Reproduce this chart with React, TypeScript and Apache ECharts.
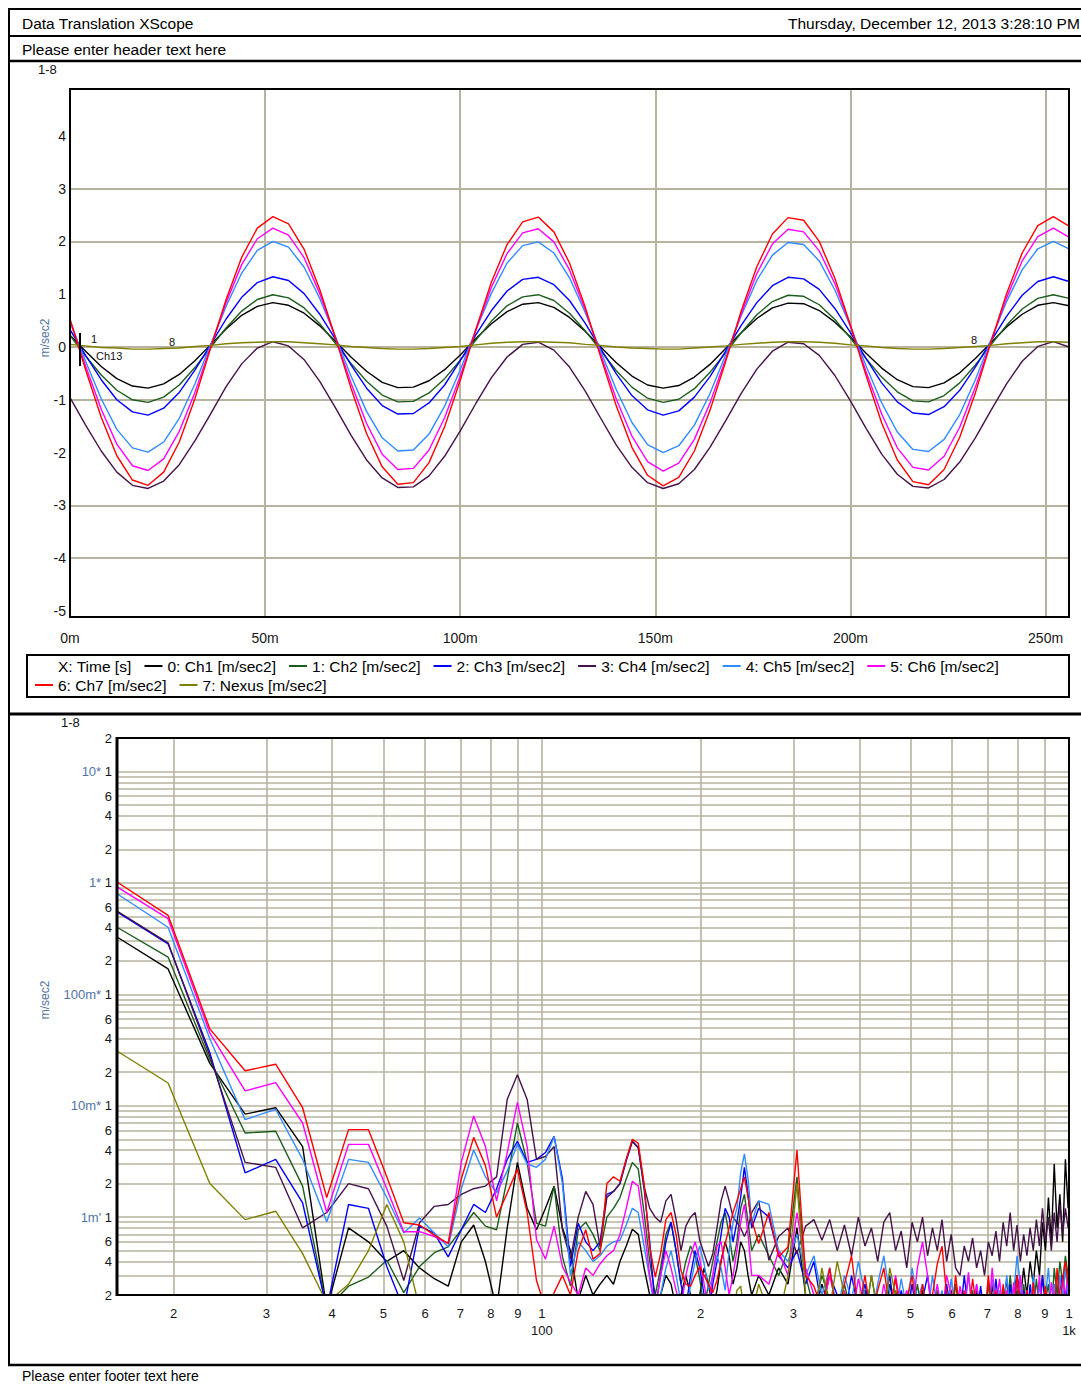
import React, { useEffect, useRef } from 'react';
import * as echarts from 'echarts';

const FONT = '"Liberation Sans", Arial, Helvetica, sans-serif';
const GRID_COLOR = '#b8b39f';
const LABEL_COLOR = '#161616';
const UNIT_COLOR = '#4f74a8';

// ---------- series identity ----------
const SERIES_NAMES = [
  '0: Ch1 [m/sec2]',
  '1: Ch2 [m/sec2]',
  '2: Ch3 [m/sec2]',
  '3: Ch4 [m/sec2]',
  '4: Ch5 [m/sec2]',
  '5: Ch6 [m/sec2]',
  '6: Ch7 [m/sec2]',
  '7: Nexus [m/sec2]',
];
const SERIES_COLORS = ['#000000', '#1b5e1b', '#0000ff', '#45124a', '#2f8cff', '#ff00ff', '#ff0000', '#808000'];
const X_LEGEND_TEXT = 'X: Time [s]';
const LEGEND_ROW1 = [0, 1, 2, 3, 4, 5];
const LEGEND_ROW2 = [6, 7];

// ---------- top chart: time signal (one sample every 4 ms) ----------
const SAMPLE_STEP_S = 0.004;
const TIME_CH1 = [
  0.22, -0.08, -0.37, -0.6, -0.74, -0.78, -0.7, -0.52, -0.26, 0.04, 0.34, 0.6, 0.77,
  0.84, 0.79, 0.64, 0.4, 0.11, -0.19, -0.46, -0.67, -0.77, -0.76, -0.64, -0.43, -0.15,
  0.16, 0.44, 0.67, 0.81, 0.84, 0.75, 0.56, 0.3, 0.0, -0.3, -0.55, -0.72, -0.78,
  -0.73, -0.57, -0.33, -0.03, 0.27, 0.54, 0.74, 0.83, 0.82, 0.69, 0.47, 0.19, -0.12,
  -0.4, -0.62, -0.75, -0.77, -0.68, -0.49, -0.22, 0.08, 0.38, 0.62, 0.79, 0.84, 0.78,
];
const TIME_CH2 = [
  0.22, -0.17, -0.53, -0.82, -1.0, -1.05, -0.95, -0.72, -0.39, -0.01, 0.36, 0.68, 0.9,
  0.99, 0.93, 0.74, 0.44, 0.07, -0.31, -0.65, -0.91, -1.04, -1.03, -0.87, -0.6, -0.25,
  0.13, 0.49, 0.78, 0.95, 0.99, 0.88, 0.64, 0.31, -0.07, -0.45, -0.76, -0.97, -1.05,
  -0.99, -0.79, -0.48, -0.11, 0.27, 0.61, 0.86, 0.98, 0.96, 0.8, 0.52, 0.17, -0.22,
  -0.57, -0.85, -1.02, -1.04, -0.92, -0.68, -0.34, 0.04, 0.41, 0.72, 0.92, 0.99, 0.92,
];
const TIME_CH3 = [
  0.33, -0.16, -0.62, -1.0, -1.23, -1.29, -1.16, -0.86, -0.44, 0.04, 0.53, 0.94, 1.22,
  1.33, 1.26, 1.01, 0.62, 0.15, -0.34, -0.78, -1.11, -1.27, -1.26, -1.06, -0.72, -0.26,
  0.23, 0.69, 1.06, 1.28, 1.32, 1.18, 0.88, 0.45, -0.03, -0.51, -0.92, -1.19, -1.29,
  -1.21, -0.95, -0.56, -0.08, 0.41, 0.84, 1.16, 1.32, 1.29, 1.09, 0.73, 0.27, -0.22,
  -0.68, -1.04, -1.25, -1.28, -1.13, -0.82, -0.38, 0.11, 0.58, 0.98, 1.24, 1.33, 1.24,
];
const TIME_CH4 = [
  -0.96, -1.48, -1.97, -2.37, -2.62, -2.68, -2.54, -2.23, -1.78, -1.27, -0.75, -0.32, -0.02,
  0.1, 0.02, -0.24, -0.65, -1.15, -1.67, -2.14, -2.48, -2.66, -2.65, -2.44, -2.07, -1.59,
  -1.07, -0.58, -0.19, 0.05, 0.09, -0.06, -0.38, -0.83, -1.35, -1.86, -2.28, -2.57, -2.68,
  -2.59, -2.32, -1.9, -1.4, -0.88, -0.42, -0.08, 0.09, 0.06, -0.16, -0.54, -1.02, -1.54,
  -2.03, -2.41, -2.64, -2.67, -2.51, -2.18, -1.72, -1.2, -0.7, -0.27, 0.01, 0.1, 0.0,
];
const TIME_CH5 = [
  0.48, -0.27, -0.98, -1.56, -1.91, -1.99, -1.8, -1.35, -0.7, 0.04, 0.77, 1.4, 1.83,
  2.0, 1.89, 1.51, 0.92, 0.2, -0.55, -1.22, -1.72, -1.97, -1.95, -1.65, -1.12, -0.43,
  0.32, 1.02, 1.59, 1.92, 1.99, 1.78, 1.31, 0.66, -0.08, -0.81, -1.43, -1.85, -2.0,
  -1.87, -1.48, -0.88, -0.15, 0.59, 1.26, 1.74, 1.98, 1.94, 1.63, 1.08, 0.39, -0.36,
  -1.06, -1.61, -1.94, -1.98, -1.75, -1.28, -0.62, 0.13, 0.86, 1.46, 1.86, 2.0, 1.86,
];
const TIME_CH6 = [
  0.5, -0.36, -1.18, -1.84, -2.25, -2.34, -2.12, -1.6, -0.86, -0.01, 0.84, 1.56, 2.05,
  2.25, 2.12, 1.69, 1.01, 0.18, -0.68, -1.45, -2.03, -2.32, -2.3, -1.95, -1.34, -0.55,
  0.32, 1.13, 1.77, 2.16, 2.24, 1.99, 1.46, 0.71, -0.14, -0.99, -1.69, -2.17, -2.35,
  -2.2, -1.75, -1.06, -0.23, 0.63, 1.39, 1.95, 2.23, 2.18, 1.82, 1.2, 0.4, -0.47,
  -1.27, -1.91, -2.28, -2.33, -2.07, -1.52, -0.76, 0.1, 0.93, 1.63, 2.09, 2.25, 2.08,
];
const TIME_CH7 = [
  0.53, -0.43, -1.33, -2.06, -2.52, -2.62, -2.37, -1.8, -0.98, -0.03, 0.9, 1.7, 2.25,
  2.47, 2.33, 1.85, 1.09, 0.18, -0.78, -1.64, -2.27, -2.6, -2.57, -2.19, -1.51, -0.63,
  0.33, 1.23, 1.94, 2.37, 2.46, 2.18, 1.59, 0.76, -0.19, -1.12, -1.9, -2.43, -2.63,
  -2.47, -1.97, -1.2, -0.28, 0.68, 1.52, 2.14, 2.45, 2.4, 2.0, 1.3, 0.41, -0.54,
  -1.44, -2.14, -2.55, -2.61, -2.32, -1.71, -0.87, 0.09, 1.01, 1.78, 2.3, 2.47, 2.29,
];
const TIME_NEXUS = [
  0.05, 0.02, -0.01, -0.02, -0.04, -0.04, -0.03, -0.02, 0.01, 0.03, 0.06, 0.08, 0.09,
  0.1, 0.1, 0.08, 0.06, 0.04, 0.01, -0.01, -0.03, -0.04, -0.04, -0.03, -0.01, 0.01,
  0.04, 0.07, 0.09, 0.1, 0.1, 0.09, 0.08, 0.05, 0.03, 0.0, -0.02, -0.03, -0.04,
  -0.04, -0.02, 0.0, 0.02, 0.05, 0.07, 0.09, 0.1, 0.1, 0.09, 0.07, 0.04, 0.02,
  -0.01, -0.03, -0.04, -0.04, -0.03, -0.01, 0.01, 0.03, 0.06, 0.08, 0.1, 0.1, 0.09,
];
const TIME_SERIES = [TIME_CH1, TIME_CH2, TIME_CH3, TIME_CH4, TIME_CH5, TIME_CH6, TIME_CH7, TIME_NEXUS];

const TOP_X_MAX_S = 0.256;
const TOP_X_STEP_S = 0.05;
const TOP_Y_MIN = -5.114;
const TOP_Y_MAX = 4.886;
const TOP_Y_LABELS = [-5, -4, -3, -2, -1, 0, 1, 2, 3, 4];
const TOP_Y_GRID = [-4, -3, -1, 0, 2, 3];

// ---------- bottom chart: spectrum (values in milli m/sec2) ----------
const BIN_WIDTH_HZ = 3.90625;
function binRange(from: number, to: number, step: number) {
  const out: number[] = [];
  for (let k = from; k <= to; k += step) out.push(k);
  return out;
}
const SPEC_BINS = [...binRange(4, 64, 1), ...binRange(66, 255, 3)];

const SPEC_CH1 = [
  // bins 4..64
  327, 169, 24, 8.4, 9.6, 4.3, 0.15, 0.8, 0.6, 0.4,
  0.5, 0.35, 0.28, 0.24, 0.6, 0.85, 0.4, 0.15, 0.8, 3.1,
  1.2, 0.77, 1.2, 1.9, 0.8, 0.5, 0.18, 0.3, 0.2, 0.25,
  0.3, 0.25, 0.4, 0.55, 0.78, 0.7, 0.35, 0.2, 0.13, 0.2,
  0.3, 0.25, 0.15, 0.2, 0.3, 0.2, 0.13, 0.2, 0.35, 0.25,
  0.15, 0.22, 0.4, 0.6, 0.45, 0.25, 0.35, 0.6, 0.5, 0.3,
  0.2,
  // bins 66..255 (every 3rd)
  0.3, 0.2, 0.35, 0.25, 0.8, 0.2, 0.13, 0.25,
  0.15, 0.2, 0.12, 0.18, 0.12, 0.22, 0.13, 0.2,
  0.12, 0.25, 0.14, 0.2, 0.12, 0.18, 0.12, 0.22,
  0.13, 0.2, 0.12, 0.18, 0.13, 0.22, 0.12, 0.2,
  0.13, 0.18, 0.12, 0.22, 0.14, 0.2, 0.12, 0.25,
  0.13, 0.2, 0.15, 0.28, 0.14, 0.22, 0.3, 0.18,
  0.35, 0.2, 0.4, 0.25, 0.5, 0.3, 0.9, 0.5,
  1.5, 0.6, 3.0, 0.8, 1.6, 0.6, 3.3, 1.2,
];
const SPEC_CH2 = [
  400, 216, 26, 5.7, 5.9, 1.9, 0.15, 0.24, 0.29, 0.41,
  0.21, 0.36, 0.48, 0.54, 0.77, 1.1, 0.83, 0.77, 2.2, 7.0,
  3.1, 0.88, 0.83, 1.9, 0.44, 0.24, 0.77, 0.9, 0.7, 0.5,
  1.0, 1.2, 1.5, 2.2, 3.1, 2.7, 1.1, 0.4, 0.2, 0.35,
  0.7, 0.9, 0.5, 0.25, 0.4, 0.55, 0.45, 0.28, 0.15, 0.25,
  0.4, 0.6, 0.9, 1.1, 0.7, 0.4, 0.6, 1.2, 1.6, 0.9,
  0.5,
  0.7, 0.45, 0.3, 0.5, 2.3, 0.3, 0.15, 0.3,
  0.18, 0.12, 0.25, 0.13, 0.2, 0.12, 0.3, 0.14,
  0.2, 0.12, 0.22, 0.13, 0.18, 0.12, 0.25, 0.13,
  0.2, 0.12, 0.22, 0.14, 0.18, 0.12, 0.25, 0.13,
  0.2, 0.12, 0.22, 0.13, 0.18, 0.12, 0.25, 0.14,
  0.2, 0.12, 0.22, 0.13, 0.3, 0.15, 0.22, 0.12,
  0.25, 0.15, 0.2, 0.13, 0.28, 0.15, 0.3, 0.18,
  0.25, 0.13, 0.35, 0.2, 0.4, 0.25, 0.45, 0.3,
];
const SPEC_CH3 = [
  550, 284, 30, 2.5, 3.3, 1.34, 0.15, 1.3, 1.2, 0.36,
  0.15, 0.83, 0.72, 0.44, 0.77, 1.3, 1.1, 1.8, 3.3, 4.8,
  3.1, 3.3, 3.8, 5.3, 2.2, 0.36, 0.88, 0.6, 0.5, 0.6,
  1.6, 1.7, 2.0, 3.2, 4.8, 4.2, 1.8, 0.6, 0.15, 0.3,
  0.6, 0.9, 0.5, 0.25, 0.15, 0.3, 0.5, 0.35, 0.2, 0.13,
  0.25, 0.4, 0.7, 1.2, 1.0, 0.6, 0.9, 1.5, 2.8, 1.6,
  0.8,
  1.2, 1.0, 0.45, 0.35, 0.5, 0.25, 0.4, 0.15,
  0.3, 0.2, 0.12, 0.3, 0.15, 0.25, 0.12, 0.2,
  0.15, 0.3, 0.12, 0.22, 0.13, 0.25, 0.12, 0.18,
  0.3, 0.13, 0.2, 0.12, 0.25, 0.14, 0.2, 0.12,
  0.3, 0.14, 0.2, 0.12, 0.24, 0.13, 0.2, 0.12,
  0.28, 0.14, 0.2, 0.12, 0.25, 0.13, 0.3, 0.14,
  0.22, 0.12, 0.25, 0.14, 0.2, 0.12, 0.3, 0.15,
  0.2, 0.13, 0.25, 0.14, 0.22, 0.3, 0.18, 0.25,
];
const SPEC_CH4 = [
  560, 290, 28, 3.1, 2.8, 0.8, 1.1, 2.0, 1.8, 0.83,
  0.27, 0.89, 1.25, 1.3, 1.6, 1.8, 1.9, 2.3, 11.4, 19.0,
  11.4, 3.3, 3.5, 4.3, 0.77, 0.42, 1.0, 1.7, 1.3, 0.54,
  1.5, 1.7, 2.0, 3.3, 4.8, 4.2, 1.9, 1.2, 1.0, 0.9,
  1.4, 1.6, 0.95, 0.5, 0.83, 1.0, 1.1, 0.62, 0.47, 0.36,
  0.47, 0.8, 1.4, 1.9, 1.4, 1.0, 0.9, 0.8, 0.67, 0.8,
  1.1,
  1.4, 0.41, 0.67, 0.8, 0.47, 0.83, 0.95, 0.62,
  0.95, 0.5, 0.85, 0.45, 1.0, 0.55, 0.8, 0.4,
  0.9, 1.1, 0.5, 0.75, 0.35, 0.9, 0.6, 1.0,
  0.45, 0.8, 0.5, 0.95, 0.4, 0.7, 0.35, 0.3,
  0.55, 0.4, 0.65, 0.35, 0.5, 0.3, 0.6, 0.45,
  0.75, 0.4, 0.9, 0.55, 1.1, 0.5, 0.85, 0.4,
  0.7, 0.45, 0.8, 0.5, 0.95, 0.55, 1.2, 0.6,
  1.0, 0.5, 1.1, 0.6, 1.3, 0.7, 1.2, 0.8,
];
const SPEC_CH5 = [
  800, 400, 40, 7.5, 9.3, 3.3, 0.91, 3.3, 3.1, 1.5,
  0.72, 0.98, 0.72, 0.54, 1.8, 4.0, 2.3, 1.65, 2.6, 4.5,
  3.0, 2.8, 3.3, 5.3, 2.0, 0.3, 0.6, 0.5, 0.4, 0.45,
  0.55, 0.6, 0.62, 0.85, 1.2, 1.1, 0.55, 0.28, 0.14, 0.2,
  0.35, 0.5, 0.3, 0.17, 0.12, 0.25, 0.4, 0.55, 0.38, 0.22,
  0.3, 0.45, 0.35, 0.22, 0.5, 0.9, 1.2, 2.5, 3.7, 2.2,
  0.9,
  1.4, 1.3, 0.5, 0.4, 0.7, 0.3, 0.45, 0.2,
  0.35, 0.14, 0.3, 0.18, 0.4, 0.2, 0.13, 0.25,
  0.45, 0.2, 0.13, 0.28, 0.15, 0.35, 0.18, 0.25,
  0.13, 0.3, 0.15, 0.22, 0.12, 0.28, 0.15, 0.2,
  0.13, 0.3, 0.15, 0.25, 0.12, 0.2, 0.14, 0.28,
  0.15, 0.22, 0.13, 0.3, 0.15, 0.2, 0.45, 0.25,
  0.14, 0.22, 0.13, 0.3, 0.15, 0.25, 0.13, 0.2,
  0.35, 0.15, 0.25, 0.13, 0.3, 0.18, 0.35, 0.2,
];
const SPEC_CH6 = [
  920, 478, 45, 13.6, 16.1, 7.0, 1.1, 4.5, 4.5, 1.8,
  0.74, 0.74, 0.67, 0.58, 3.1, 8.1, 4.3, 1.4, 3.8, 10.7,
  4.3, 0.63, 0.42, 0.83, 0.36, 0.26, 0.2, 0.35, 0.3, 0.38,
  0.45, 0.5, 0.7, 1.2, 2.1, 1.9, 0.8, 0.3, 0.15, 0.3,
  0.5, 0.35, 0.22, 0.15, 0.3, 0.45, 0.6, 0.42, 0.25, 0.15,
  0.3, 0.55, 0.6, 0.35, 0.2, 0.3, 0.5, 0.9, 1.3, 0.7,
  0.3,
  0.3, 0.25, 0.5, 0.3, 1.1, 0.35, 0.2, 0.14,
  0.3, 0.15, 0.22, 0.12, 0.28, 0.15, 0.2, 0.12,
  0.25, 0.14, 0.3, 0.15, 0.22, 0.13, 0.35, 0.6,
  0.3, 0.14, 0.25, 0.13, 0.3, 0.2, 0.12, 0.24,
  0.15, 0.32, 0.13, 0.25, 0.14, 0.2, 0.12, 0.35,
  0.15, 0.28, 0.13, 0.22, 0.12, 0.26, 0.14, 0.3,
  0.15, 0.22, 0.12, 0.25, 0.14, 0.3, 0.15, 0.22,
  0.13, 0.26, 0.15, 0.2, 0.13, 0.28, 0.2, 0.3,
];
const SPEC_CH7 = [
  1020, 512, 49, 20.6, 23.6, 9.6, 1.5, 6.1, 6.1, 2.3,
  0.89, 0.85, 0.69, 0.58, 2.2, 5.2, 2.9, 1.0, 1.65, 2.7,
  1.1, 0.27, 0.15, 0.21, 0.3, 0.2, 0.5, 0.77, 0.42, 0.47,
  2.0, 2.3, 2.1, 3.3, 5.0, 4.6, 2.0, 0.54, 0.29, 0.47,
  0.95, 1.1, 0.7, 0.33, 0.25, 0.24, 0.3, 0.36, 0.3, 0.25,
  0.21, 0.27, 0.41, 0.58, 0.8, 1.1, 1.4, 1.8, 2.3, 1.5,
  0.95,
  0.58, 1.1, 0.44, 0.54, 4.0, 0.3, 0.24, 0.15,
  0.35, 0.12, 0.25, 0.45, 0.14, 0.3, 0.12, 0.22,
  0.35, 0.15, 0.28, 0.12, 0.18, 0.3, 0.13, 0.25,
  0.12, 0.2, 0.38, 0.55, 0.2, 0.12, 0.3, 0.14,
  0.22, 0.12, 0.28, 0.15, 0.2, 0.12, 0.3, 0.13,
  0.22, 0.12, 0.25, 0.14, 0.2, 0.12, 0.3, 0.15,
  0.12, 0.22, 0.13, 0.26, 0.12, 0.2, 0.14, 0.24,
  0.12, 0.2, 0.13, 0.35, 0.15, 0.28, 0.4, 0.25,
];
const SPEC_NEXUS = [
  31, 16, 2.0, 0.95, 1.13, 0.47, 0.17, 0.25, 0.5, 1.3,
  0.6, 0.15, 0.12, 0.13, 0.12, 0.15, 0.12, 0.14, 0.12, 0.13,
  0.12, 0.15, 0.12, 0.13, 0.12, 0.14, 0.12, 0.13, 0.15, 0.12,
  0.14, 0.12, 0.13, 0.16, 0.12, 0.13, 0.14, 0.12, 0.15, 0.12,
  0.13, 0.12, 0.14, 0.12, 0.13, 0.15, 0.12, 0.13, 0.12, 0.14,
  0.12, 0.13, 0.12, 0.15, 0.12, 0.13, 0.22, 0.24, 0.14, 0.12,
  0.13,
  0.25, 0.14, 0.12, 0.3, 2.0, 0.2, 0.12, 0.35,
  0.15, 0.4, 0.2, 0.12, 0.15, 0.12, 0.3, 0.14,
  0.12, 0.35, 0.2, 0.12, 0.14, 0.12, 0.13, 0.12,
  0.15, 0.12, 0.13, 0.12, 0.14, 0.12, 0.13, 0.12,
  0.15, 0.12, 0.13, 0.12, 0.14, 0.12, 0.13, 0.12,
  0.15, 0.12, 0.13, 0.12, 0.14, 0.12, 0.13, 0.12,
  0.15, 0.12, 0.13, 0.12, 0.14, 0.12, 0.13, 0.12,
  0.15, 0.12, 0.13, 0.12, 0.14, 0.12, 0.13, 0.12,
];
const SPEC_SERIES = [SPEC_CH1, SPEC_CH2, SPEC_CH3, SPEC_CH4, SPEC_CH5, SPEC_CH6, SPEC_CH7, SPEC_NEXUS];

const FREQ_MIN = 15.625;
const FREQ_MAX = 1000;
const AMP_MIN = 0.0002;
const AMP_MAX = 20;
const FREQ_GRID = [20, 30, 40, 50, 60, 70, 80, 90, 100, 200, 300, 400, 500, 600, 700, 800, 900, 1000];
const FREQ_LABELS = ['2', '3', '4', '5', '6', '7', '8', '9', '1\n100', '2', '3', '4', '5', '6', '7', '8', '9', '1\n1k'];
const AMP_DECADES = [0.0001, 0.001, 0.01, 0.1, 1, 10];
const AMP_DECADE_TEXT = ['', "1m'", '10m*', '100m*', '1*', '10*'];
const AMP_MANTISSAS = [1, 2, 3, 4, 5, 6, 7, 8, 9];
const AMP_LABELED_MANTISSAS = [1, 2, 4, 6];

function buildOption() {
  const axisFont = { fontFamily: FONT, fontSize: 14, color: LABEL_COLOR };

  // ---- top chart mark lines (horizontal grid + y labels) ----
  const topMarkLine = {
    silent: true,
    symbol: ['none', 'none'],
    precision: 6,
    z: 1,
    animation: false,
    data: TOP_Y_LABELS.map((v) => ({
      yAxis: v,
      lineStyle: { color: GRID_COLOR, width: TOP_Y_GRID.includes(v) ? 2 : 0, type: 'solid' },
      label: { show: true, position: 'start', distance: 4, formatter: String(v), ...axisFont },
    })),
  };

  // ---- bottom chart mark lines (grid + labels) ----
  const ampItems: any[] = [];
  AMP_DECADES.forEach((dec, di) => {
    AMP_MANTISSAS.forEach((m) => {
      const v = +(m * dec).toPrecision(3);
      if (v < AMP_MIN - 1e-12 || v > AMP_MAX + 1e-9) return;
      const labeled = AMP_LABELED_MANTISSAS.includes(m);
      let text = String(m);
      if (m === 1) text = `{u|${AMP_DECADE_TEXT[di]}} 1`;
      ampItems.push({
        yAxis: v,
        lineStyle: { color: GRID_COLOR, width: 1.6, type: 'solid' },
        label: labeled
          ? {
              show: true,
              position: 'start',
              distance: 5,
              formatter: text,
              ...axisFont,
              fontSize: 13,
              rich: { u: { color: UNIT_COLOR, fontFamily: FONT, fontSize: 13 } },
            }
          : { show: false },
      });
    });
  });
  const freqItems = FREQ_GRID.map((f, i) => ({
    xAxis: f,
    lineStyle: { color: GRID_COLOR, width: f >= FREQ_MAX ? 0 : 1.6, type: 'solid' },
    label: {
      show: true,
      position: 'start',
      distance: 10,
      formatter: FREQ_LABELS[i],
      lineHeight: 17,
      align: 'center',
      ...axisFont,
      fontSize: 13,
    },
  }));
  const bottomMarkLine = {
    silent: true,
    symbol: ['none', 'none'],
    precision: 8,
    z: 1,
    animation: false,
    data: [...ampItems, ...freqItems],
  };

  const topSeries = TIME_SERIES.map((vals, i) => ({
    name: SERIES_NAMES[i],
    type: 'line',
    xAxisIndex: 0,
    yAxisIndex: 0,
    data: vals.map((v, j) => [j * SAMPLE_STEP_S, v]),
    symbol: 'none',
    showSymbol: false,
    lineStyle: { color: SERIES_COLORS[i], width: 1.4 },
    itemStyle: { color: SERIES_COLORS[i] },
    z: 3,
    animation: false,
    markLine: i === 0 ? topMarkLine : undefined,
  }));

  const bottomSeries = SPEC_SERIES.map((vals, i) => ({
    name: SERIES_NAMES[i],
    type: 'line',
    xAxisIndex: 1,
    yAxisIndex: 1,
    data: vals.map((v, j) => [SPEC_BINS[j] * BIN_WIDTH_HZ, v / 1000]),
    symbol: 'none',
    showSymbol: false,
    lineStyle: { color: SERIES_COLORS[i], width: 1.4 },
    itemStyle: { color: SERIES_COLORS[i] },
    z: 3,
    animation: false,
    markLine: i === 0 ? bottomMarkLine : undefined,
  }));

  const dummyX = {
    name: X_LEGEND_TEXT,
    type: 'line',
    xAxisIndex: 0,
    yAxisIndex: 0,
    data: [],
    symbol: 'none',
    itemStyle: { color: '#000' },
    lineStyle: { color: '#000' },
  };

  const hidden = {
    axisLine: { show: false },
    axisTick: { show: false },
    axisLabel: { show: false },
    splitLine: { show: false },
  };

  const line = (x1: number, y1: number, x2: number, y2: number, w: number) => ({
    type: 'line',
    z: 100,
    silent: true,
    shape: { x1, y1, x2, y2 },
    style: { stroke: '#000', lineWidth: w },
  });
  const text = (x: number, y: number, t: string, size: number, extra: any = {}) => ({
    type: 'text',
    z: 100,
    silent: true,
    x,
    y,
    ...extra,
    style: {
      text: t,
      fontFamily: FONT,
      fontSize: size,
      fill: extra.fill || '#111',
      align: extra.align || 'left',
      verticalAlign: 'middle',
    },
  });

  const legendBase = {
    left: 35,
    padding: 0,
    itemWidth: 18,
    itemHeight: 2,
    itemGap: 13,
    icon: 'rect',
    orient: 'horizontal',
    selectedMode: false,
    textStyle: { fontFamily: FONT, fontSize: 15.5, color: '#000', lineHeight: 16 },
  };

  return {
    animation: false,
    backgroundColor: '#ffffff',
    textStyle: { fontFamily: FONT },
    legend: [
      {
        ...legendBase,
        top: 658,
        data: [{ name: X_LEGEND_TEXT, icon: 'none' }, ...LEGEND_ROW1.map((i) => SERIES_NAMES[i])],
      },
      {
        ...legendBase,
        top: 677,
        data: LEGEND_ROW2.map((i) => SERIES_NAMES[i]),
      },
    ],
    grid: [
      { left: 70, top: 89, width: 999, height: 528, containLabel: false },
      { left: 117, top: 738, width: 952, height: 557, containLabel: false },
    ],
    xAxis: [
      {
        type: 'value',
        gridIndex: 0,
        min: 0,
        max: TOP_X_MAX_S,
        interval: TOP_X_STEP_S,
        axisLine: { show: false },
        axisTick: { show: false },
        splitLine: { show: true, lineStyle: { color: GRID_COLOR, width: 2 } },
        axisLabel: {
          margin: 14,
          showMaxLabel: false,
          formatter: (v: number) => `${Math.round(v * 1000)}m`,
          ...axisFont,
        },
      },
      { type: 'log', logBase: 10, gridIndex: 1, min: FREQ_MIN, max: FREQ_MAX, ...hidden },
    ],
    yAxis: [
      { type: 'value', gridIndex: 0, min: TOP_Y_MIN, max: TOP_Y_MAX, ...hidden },
      { type: 'log', logBase: 10, gridIndex: 1, min: AMP_MIN, max: AMP_MAX, ...hidden },
    ],
    series: [dummyX, ...topSeries, ...bottomSeries],
    graphic: {
      elements: [
        // page frame
        line(8, 9, 1081, 9, 2),
        line(9, 8, 9, 1366, 2),
        line(8, 36, 1081, 36, 2),
        line(8, 61, 1081, 61, 2.5),
        line(8, 714, 1081, 714, 3),
        line(8, 1365, 1081, 1365, 2.5),
        // plot frames
        {
          type: 'rect',
          z: 100,
          silent: true,
          shape: { x: 70, y: 89, width: 999, height: 528 },
          style: { fill: 'none', stroke: '#000', lineWidth: 2 },
        },
        {
          type: 'rect',
          z: 100,
          silent: true,
          shape: { x: 27, y: 655, width: 1042, height: 42 },
          style: { fill: 'none', stroke: '#000', lineWidth: 2 },
        },
        {
          type: 'rect',
          z: 100,
          silent: true,
          shape: { x: 117, y: 738, width: 952, height: 557 },
          style: { fill: 'none', stroke: '#000', lineWidth: 2 },
        },
        line(117, 737, 117, 1296, 3),
        // header / footer texts
        text(22, 23, 'Data Translation XScope', 15.5, { fill: '#000' }),
        text(788, 23, 'Thursday, December 12, 2013 3:28:10 PM', 15.5, { fill: '#000' }),
        text(22, 49, 'Please enter header text here', 15.5, { fill: '#000' }),
        text(22, 1376, 'Please enter footer text here', 14, { fill: '#000' }),
        text(38, 69, '1-8', 13),
        text(61, 722, '1-8', 13),
        // axis names
        text(45, 338, 'm/sec2', 12, { rotation: Math.PI / 2, align: 'center', fill: UNIT_COLOR }),
        text(45, 1000, 'm/sec2', 12, { rotation: Math.PI / 2, align: 'center', fill: UNIT_COLOR }),
        // cursor marks
        line(80, 333, 80, 366, 2),
        text(91, 339, '1', 11),
        text(96, 356, 'Ch13', 11),
        text(169, 342, '8', 11),
        text(971, 340, '8', 11),
      ],
    },
  };
}

export default function App() {
  const ref = useRef<HTMLDivElement>(null);
  useEffect(() => {
    if (!ref.current) return;
    const chart = echarts.init(ref.current, null, { renderer: 'svg', width: 1081, height: 1385 });
    chart.setOption(buildOption() as any);
    return () => chart.dispose();
  }, []);
  return (
    <div
      ref={ref}
      style={{ position: 'absolute', left: 0, top: 0, width: 1081, height: 1385, background: '#fff', overflow: 'hidden' }}
    />
  );
}
